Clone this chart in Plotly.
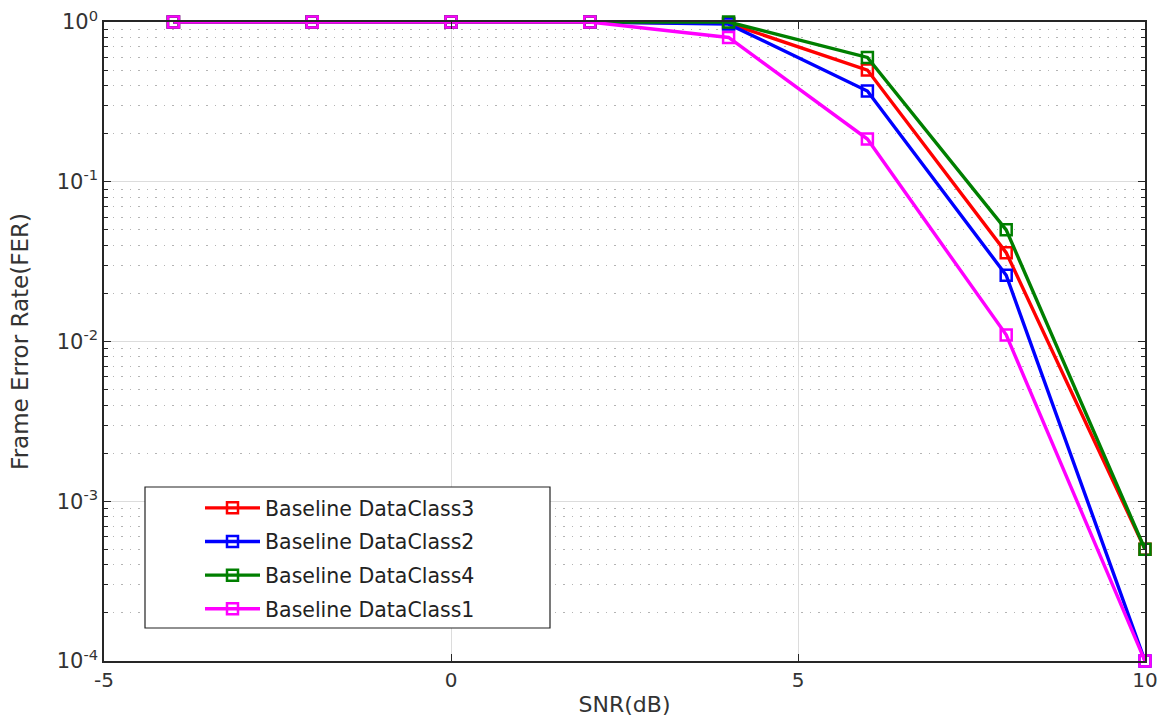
import plotly.graph_objects as go

snr = [-4, -2, 0, 2, 4, 6, 8, 10]
fer_class3 = [1, 1, 1, 1, 0.98, 0.50, 0.036, 5e-4]
fer_class2 = [1, 1, 1, 1, 0.97, 0.37, 0.026, 1e-4]
fer_class4 = [1, 1, 1, 1, 1.0, 0.60, 0.050, 5e-4]
fer_class1 = [1, 1, 1, 1, 0.80, 0.185, 0.011, 1e-4]

series = [
    ("Baseline DataClass3", fer_class3, "#ff0000"),
    ("Baseline DataClass2", fer_class2, "#0000ff"),
    ("Baseline DataClass4", fer_class4, "#007f00"),
    ("Baseline DataClass1", fer_class1, "#ff00ff"),
]

x_ticks = [-5, 0, 5, 10]
y_tickvals = [1e-4, 1e-3, 1e-2, 1e-1, 1]
y_ticktext = ["10<sup>-4</sup>", "10<sup>-3</sup>", "10<sup>-2</sup>", "10<sup>-1</sup>", "10<sup>0</sup>"]
y_minor = [d * 10.0 ** e for e in range(-4, 0) for d in range(2, 10)]

FONT = "DejaVu Sans"

fig = go.Figure()
for i, (name, vals, col) in enumerate(series):
    fig.add_trace(go.Scatter(
        x=snr, y=vals, name=name, mode="lines+markers", legendgroup=f"g{i}",
        line=dict(color=col, width=3.4),
        marker=dict(symbol="square-open", size=11, color=col, line=dict(width=2.5, color=col)),
        cliponaxis=False,
    ))

fig.update_layout(
    width=1165, height=723,
    margin=dict(l=104, r=20, t=22, b=62, autoexpand=False),
    paper_bgcolor="white", plot_bgcolor="white",
    font=dict(family=FONT, size=18, color="#333333"),
    showlegend=True,
    legend=dict(
        x=(200 - 104) / 1041, y=(661 - 488) / 639, xanchor="left", yanchor="top",
        bgcolor="rgba(0,0,0,0)", borderwidth=0,
        font=dict(family=FONT, size=20.5, color="#222222"),
        tracegroupgap=4, itemwidth=55,
    ),
    shapes=[dict(
        type="rect", xref="paper", yref="paper",
        x0=(145 - 104) / 1041, x1=(550 - 104) / 1041,
        y0=(661 - 628) / 639, y1=(661 - 487) / 639,
        fillcolor="white", line=dict(color="#222222", width=1.2), layer="above",
    )],
)

fig.update_xaxes(
    range=[-5, 10], tickvals=x_ticks, ticktext=[str(v) for v in x_ticks], automargin=False,
    showgrid=True, gridcolor="#dcdcdc", gridwidth=1,
    zeroline=False, showline=True, linecolor="#262626", linewidth=1.5, mirror="ticks",
    ticks="inside", ticklen=7, tickcolor="#262626",
    tickfont=dict(family=FONT, size=20, color="#333333"),
    title=dict(text="SNR(dB)", font=dict(family=FONT, size=22, color="#333333"), standoff=6),
)
fig.update_yaxes(
    type="log", range=[-4, 0], tickvals=y_tickvals, ticktext=y_ticktext, automargin=False,
    showgrid=True, gridcolor="#dcdcdc", gridwidth=1,
    zeroline=False, showline=True, linecolor="#262626", linewidth=1.5, mirror="ticks",
    ticks="inside", ticklen=7, tickcolor="#262626",
    tickfont=dict(family=FONT, size=21, color="#333333"),
    minor=dict(tickvals=y_minor, showgrid=True, gridcolor="#b4b4b4", griddash="1.5px,7px", gridwidth=1.2,
               ticks="inside", ticklen=4, tickcolor="#262626"),
    title=dict(text="Frame Error Rate(FER)", font=dict(family=FONT, size=23, color="#333333"), standoff=22),
)

fig.write_html("out.html")
